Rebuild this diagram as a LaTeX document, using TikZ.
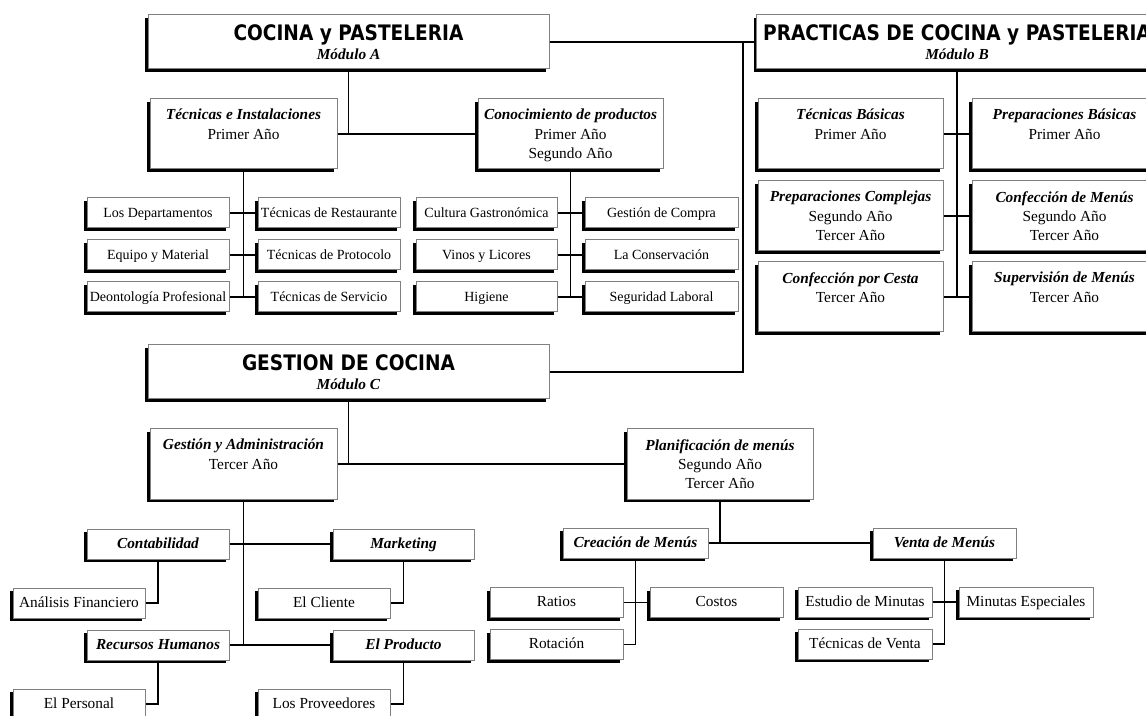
\documentclass[tikz,border=0pt]{standalone}
\usepackage{fontspec}
\usepackage{graphicx}
\setmainfont{Liberation Serif}
\newfontfamily\hfont{DejaVu Sans}
\usetikzlibrary{shadows}
\newcommand{\htitle}[1]{{\hfont\bfseries\fontsize{16}{14.25}\selectfont\scalebox{0.87}[1]{#1}}}
\newcommand{\btitle}[1]{\textbf{\textit{#1}}}
\begin{document}
\begin{tikzpicture}[x=0.75pt,y=-0.75pt,
  sz/.style 2 args={minimum width=#1*0.75pt, minimum height=#2*0.75pt},
  base/.style={draw=black!50, line width=0.75pt, fill=white,
    general shadow={fill=black, shadow xshift=-2.25pt, shadow yshift=-2.25pt},
    inner sep=0pt, align=center, font=\fontsize{11.5}{14.5}\selectfont},
  hdr/.style={base, sz={401}{54}, font=\fontsize{11.5}{14.25}\selectfont},
  mid/.style={base, sz={#1}{70}},
  leafA/.style={base, sz={#1}{30}, font=\fontsize{10.5}{12}\selectfont,
    text height=7.4pt, text depth=1.3pt},
  leafC/.style={base, sz={#1}{30}, text height=8pt, text depth=1.5pt},
  ttl/.style={base, sz={#1}{30}, font=\fontsize{11.5}{14.5}\selectfont\bfseries\itshape,
    text height=8pt, text depth=1.5pt},
  conn/.style={line width=0.9pt, black}
]
\useasboundingbox (0,0) rectangle (1146,716);
\fill[white] (0,0) rectangle (1146,716);
\clip (0,0) rectangle (1146,716);

% headers
\node[hdr] (A) at (348.5,42) {\htitle{COCINA y PASTELERIA}\\\btitle{Módulo A}};
\node[hdr] (B) at (957,42) {\htitle{PRACTICAS DE COCINA y PASTELERIA}\\\btitle{Módulo B}};
\node[hdr] (C) at (348.5,372) {\htitle{GESTION DE COCINA}\\\btitle{Módulo C}};

% module A second level
\node[mid=187] (TI) at (243.5,134) {\btitle{Técnicas e Instalaciones}\\Primer Año\\\mbox{}};
\node[mid=185] (CP) at (570.5,134) {\btitle{Conocimiento de productos}\\Primer Año\\\smash{Segundo Año}};

% module A leaves
\node[leafA=142] (a1) at (158,213) {Los Departamentos};
\node[leafA=142] (a2) at (329,213) {Técnicas de Restaurante};
\node[leafA=142] (a3) at (158,255) {Equipo y Material};
\node[leafA=142] (a4) at (329,255) {Técnicas de Protocolo};
\node[leafA=142] (a5) at (158,297) {Deontología Profesional};
\node[leafA=142] (a6) at (329,297) {Técnicas de Servicio};
\node[leafA=141] (b1) at (486.5,213) {Cultura Gastronómica};
\node[leafA=153] (b2) at (661.5,213) {Gestión de Compra};
\node[leafA=141] (b3) at (486.5,255) {Vinos y Licores};
\node[leafA=153] (b4) at (661.5,255) {La Conservación};
\node[leafA=141] (b5) at (486.5,297) {Higiene};
\node[leafA=153] (b6) at (661.5,297) {Seguridad Laboral};

% module B
\node[mid=185] (B1) at (850.5,134) {\btitle{Técnicas Básicas}\\Primer Año\\\mbox{}};
\node[mid=185] (B2) at (1064.5,134) {\btitle{Preparaciones Básicas}\\Primer Año\\\mbox{}};
\node[mid=185] (B3) at (850.5,216) {\btitle{Preparaciones Complejas}\\Segundo Año\\\smash{Tercer Año}};
\node[mid=185] (B4) at (1064.5,216) {\btitle{Confección de Menús}\\Segundo Año\\\smash{Tercer Año}};
\node[mid=185] (B5) at (850.5,297) {\btitle{Confección por Cesta}\\Tercer Año\\\mbox{}};
\node[mid=185] (B6) at (1064.5,297) {\btitle{Supervisión de Menús}\\Tercer Año\\\mbox{}};

% module C second level
\node[mid=187] (GA) at (243.5,464) {\btitle{Gestión y Administración}\\Tercer Año\\\mbox{}};
\node[mid=186] (PM) at (720,464) {\btitle{Planificación de menús}\\Segundo Año\\\smash{Tercer Año}};

% module C third level left
\node[ttl=142] (c1) at (158,544) {Contabilidad};
\node[ttl=141] (c2) at (403.5,544) {Marketing};
\node[leafC=132] (c3) at (79,603) {Análisis Financiero};
\node[leafC=132] (c4) at (324,603) {El Cliente};
\node[ttl=142] (c5) at (158,645) {Recursos Humanos};
\node[ttl=141] (c6) at (403.5,645) {El Producto};
\node[leafC=132] (c7) at (79,704) {El Personal};
\node[leafC=132] (c8) at (324,704) {Los Proveedores};

% module C third level right
\node[ttl=145] (d1) at (635.5,543) {Creación de Menús};
\node[ttl=143] (d2) at (944.5,543) {Venta de Menús};
\node[leafC=133] (d3) at (556.5,602.5) {Ratios};
\node[leafC=133] (d4) at (716.5,602.5) {Costos};
\node[leafC=133] (d5) at (556.5,644.5) {Rotación};
\node[leafC=134] (d6) at (865,602) {Estudio de Minutas};
\node[leafC=134] (d7) at (1026,602) {Minutas Especiales};
\node[leafC=134] (d8) at (865,644) {Técnicas de Venta};

\coordinate (jAB) at (743,42);

% connectors
\draw[conn] (A.east) -- (B.west);
\draw[conn] (jAB) |- (C.east);
\draw[conn] (A.south) -- (A.south |- TI.east);
\draw[conn] (TI.east) -- (CP.west);
\draw[conn] (TI.south) -- (TI.south |- a5.east);
\draw[conn] (a1.east) -- (a2.west);
\draw[conn] (a3.east) -- (a4.west);
\draw[conn] (a5.east) -- (a6.west);
\draw[conn] (CP.south) -- (CP.south |- b5.east);
\draw[conn] (b1.east) -- (b2.west);
\draw[conn] (b3.east) -- (b4.west);
\draw[conn] (b5.east) -- (b6.west);
\draw[conn] (B.south) -- (B.south |- B5.east);
\draw[conn] (B1.east) -- (B2.west);
\draw[conn] (B3.east) -- (B4.west);
\draw[conn] (B5.east) -- (B6.west);
\draw[conn] (C.south) -- (C.south |- GA.east);
\draw[conn] (GA.east) -- (PM.west);
\draw[conn] (GA.south) -- (GA.south |- c5.east);
\draw[conn] (c1.east) -- (c2.west);
\draw[conn] (c5.east) -- (c6.west);
\draw[conn] (c1.south) |- (c3.east);
\draw[conn] (c2.south) |- (c4.east);
\draw[conn] (c5.south) |- (c7.east);
\draw[conn] (c6.south) |- (c8.east);
\draw[conn] (PM.south) -- (PM.south |- d1.east);
\draw[conn] (d1.east) -- (d2.west);
\draw[conn] (d1.south) |- (d5.east);
\draw[conn] (d3.east) -- (d4.west);
\draw[conn] (d2.south) |- (d8.east);
\draw[conn] (d6.east) -- (d7.west);
\end{tikzpicture}
\end{document}
